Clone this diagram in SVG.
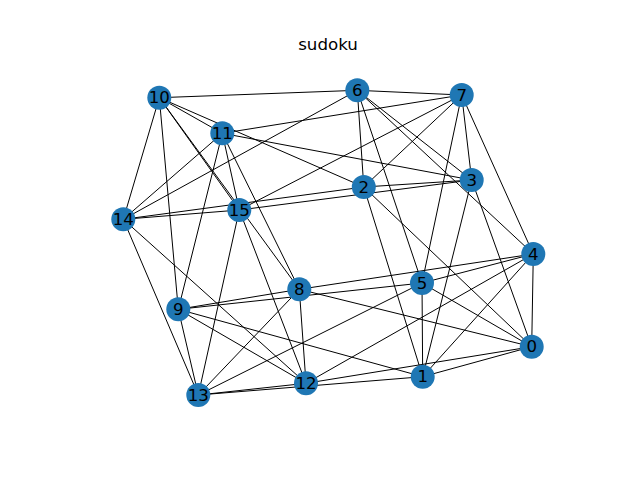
<svg xmlns="http://www.w3.org/2000/svg" width="640" height="480" viewBox="0 0 640 480">
<style>
.e line{stroke:#000;stroke-width:1}
.n circle{fill:#1f77b4}
.n text{font-family:"DejaVu Sans",sans-serif;font-size:16.67px;fill:#000;text-anchor:middle;dominant-baseline:central}
.t{font-family:"DejaVu Sans",sans-serif;font-size:16.67px;fill:#000;text-anchor:middle}
</style>
<rect width="640" height="480" fill="#fff"/>
<text class="t" x="328" y="50">sudoku</text>
<g id="edges" class="e">
<line x1="531.7" y1="346.7" x2="422.7" y2="376.7"/>
<line x1="531.7" y1="346.7" x2="363.8" y2="187"/>
<line x1="531.7" y1="346.7" x2="471.7" y2="180"/>
<line x1="422.7" y1="376.7" x2="363.8" y2="187"/>
<line x1="422.7" y1="376.7" x2="471.7" y2="180"/>
<line x1="363.8" y1="187" x2="471.7" y2="180"/>
<line x1="533.3" y1="254" x2="422" y2="283"/>
<line x1="533.3" y1="254" x2="357.3" y2="90.3"/>
<line x1="533.3" y1="254" x2="461.7" y2="95"/>
<line x1="422" y1="283" x2="357.3" y2="90.3"/>
<line x1="422" y1="283" x2="461.7" y2="95"/>
<line x1="357.3" y1="90.3" x2="461.7" y2="95"/>
<line x1="299.3" y1="289.3" x2="178.3" y2="309.3"/>
<line x1="299.3" y1="289.3" x2="159.3" y2="97.7"/>
<line x1="299.3" y1="289.3" x2="222.3" y2="133.3"/>
<line x1="178.3" y1="309.3" x2="159.3" y2="97.7"/>
<line x1="178.3" y1="309.3" x2="222.3" y2="133.3"/>
<line x1="159.3" y1="97.7" x2="222.3" y2="133.3"/>
<line x1="306" y1="383.3" x2="198.3" y2="395"/>
<line x1="306" y1="383.3" x2="123.3" y2="219.3"/>
<line x1="306" y1="383.3" x2="239.3" y2="210"/>
<line x1="198.3" y1="395" x2="123.3" y2="219.3"/>
<line x1="198.3" y1="395" x2="239.3" y2="210"/>
<line x1="123.3" y1="219.3" x2="239.3" y2="210"/>
<line x1="531.7" y1="346.7" x2="533.3" y2="254"/>
<line x1="531.7" y1="346.7" x2="299.3" y2="289.3"/>
<line x1="531.7" y1="346.7" x2="306" y2="383.3"/>
<line x1="533.3" y1="254" x2="299.3" y2="289.3"/>
<line x1="533.3" y1="254" x2="306" y2="383.3"/>
<line x1="299.3" y1="289.3" x2="306" y2="383.3"/>
<line x1="422.7" y1="376.7" x2="422" y2="283"/>
<line x1="422.7" y1="376.7" x2="178.3" y2="309.3"/>
<line x1="422.7" y1="376.7" x2="198.3" y2="395"/>
<line x1="422" y1="283" x2="178.3" y2="309.3"/>
<line x1="422" y1="283" x2="198.3" y2="395"/>
<line x1="178.3" y1="309.3" x2="198.3" y2="395"/>
<line x1="363.8" y1="187" x2="357.3" y2="90.3"/>
<line x1="363.8" y1="187" x2="159.3" y2="97.7"/>
<line x1="363.8" y1="187" x2="123.3" y2="219.3"/>
<line x1="357.3" y1="90.3" x2="159.3" y2="97.7"/>
<line x1="357.3" y1="90.3" x2="123.3" y2="219.3"/>
<line x1="159.3" y1="97.7" x2="123.3" y2="219.3"/>
<line x1="471.7" y1="180" x2="461.7" y2="95"/>
<line x1="471.7" y1="180" x2="222.3" y2="133.3"/>
<line x1="471.7" y1="180" x2="239.3" y2="210"/>
<line x1="461.7" y1="95" x2="222.3" y2="133.3"/>
<line x1="461.7" y1="95" x2="239.3" y2="210"/>
<line x1="222.3" y1="133.3" x2="239.3" y2="210"/>
<line x1="531.7" y1="346.7" x2="422" y2="283"/>
<line x1="422.7" y1="376.7" x2="533.3" y2="254"/>
<line x1="363.8" y1="187" x2="461.7" y2="95"/>
<line x1="471.7" y1="180" x2="357.3" y2="90.3"/>
<line x1="299.3" y1="289.3" x2="198.3" y2="395"/>
<line x1="178.3" y1="309.3" x2="306" y2="383.3"/>
<line x1="159.3" y1="97.7" x2="239.3" y2="210"/>
<line x1="222.3" y1="133.3" x2="123.3" y2="219.3"/>
</g>
<g id="node0" class="n"><circle cx="531.7" cy="346.7" r="12"/><text x="531.7" y="346.7">0</text></g>
<g id="node1" class="n"><circle cx="422.7" cy="376.7" r="12"/><text x="422.7" y="376.7">1</text></g>
<g id="node2" class="n"><circle cx="363.8" cy="187" r="12"/><text x="363.8" y="187">2</text></g>
<g id="node3" class="n"><circle cx="471.7" cy="180" r="12"/><text x="471.7" y="180">3</text></g>
<g id="node4" class="n"><circle cx="533.3" cy="254" r="12"/><text x="533.3" y="254">4</text></g>
<g id="node5" class="n"><circle cx="422" cy="283" r="12"/><text x="422" y="283">5</text></g>
<g id="node6" class="n"><circle cx="357.3" cy="90.3" r="12"/><text x="357.3" y="90.3">6</text></g>
<g id="node7" class="n"><circle cx="461.7" cy="95" r="12"/><text x="461.7" y="95">7</text></g>
<g id="node8" class="n"><circle cx="299.3" cy="289.3" r="12"/><text x="299.3" y="289.3">8</text></g>
<g id="node9" class="n"><circle cx="178.3" cy="309.3" r="12"/><text x="178.3" y="309.3">9</text></g>
<g id="node10" class="n"><circle cx="159.3" cy="97.7" r="12"/><text x="159.3" y="97.7">10</text></g>
<g id="node11" class="n"><circle cx="222.3" cy="133.3" r="12"/><text x="222.3" y="133.3">11</text></g>
<g id="node12" class="n"><circle cx="306" cy="383.3" r="12"/><text x="306" y="383.3">12</text></g>
<g id="node13" class="n"><circle cx="198.3" cy="395" r="12"/><text x="198.3" y="395">13</text></g>
<g id="node14" class="n"><circle cx="123.3" cy="219.3" r="12"/><text x="123.3" y="219.3">14</text></g>
<g id="node15" class="n"><circle cx="239.3" cy="210" r="12"/><text x="239.3" y="210">15</text></g>
</svg>
